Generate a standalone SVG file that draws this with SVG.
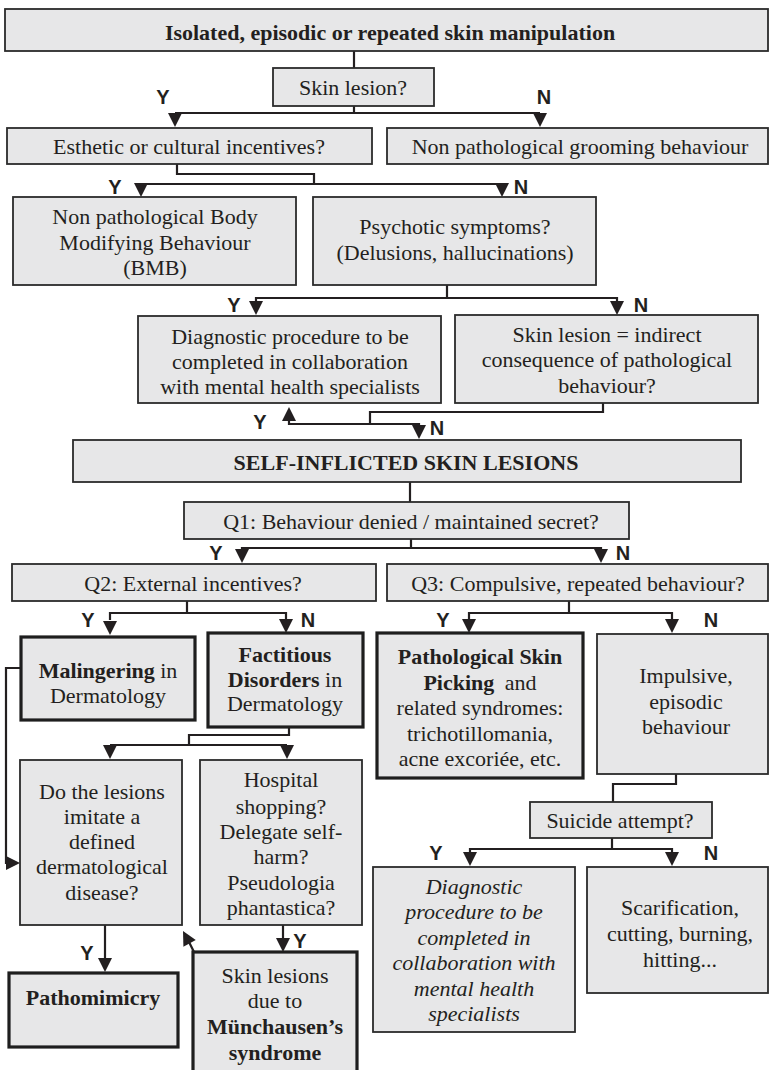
<svg xmlns="http://www.w3.org/2000/svg" width="769" height="1070" viewBox="0 0 769 1070">
<style>
.b{fill:#e7e7e8;stroke:#2b2b2b;stroke-width:1.8}
.bt{fill:#e7e7e8;stroke:#1e1e1e;stroke-width:3.2}
.t{font-family:"Liberation Serif","Times New Roman",serif;font-size:22px;fill:#231f20;text-anchor:middle}
.bd{font-weight:bold}
.it{font-style:italic}
.yn{font-family:"Liberation Sans",Arial,sans-serif;font-weight:bold;font-size:20px;fill:#231f20;text-anchor:middle}
.c{fill:none;stroke:#231f20;stroke-width:2.2}
</style>
<defs>
<path id="ah" d="M-7,-14 L7,-14 L0,0 Z" fill="#231f20"/>
</defs>
<rect width="769" height="1070" fill="#ffffff"/>

<g id="connectors">
<path class="c" d="M354,51 V68"/>
<path class="c" d="M354,106 V113 M175,113 H540"/>
<use href="#ah" transform="translate(175,127)"/>
<use href="#ah" transform="translate(540,127)"/>
<path class="c" d="M177,164 V174 H314 V184 M141,184 H502"/>
<use href="#ah" transform="translate(141,197)"/>
<use href="#ah" transform="translate(502,197)"/>
<path class="c" d="M447,285 V298 M256,302 V298 H617 V302"/>
<use href="#ah" transform="translate(256,315)"/>
<use href="#ah" transform="translate(617,315)"/>
<path class="c" d="M603,403 V412 H370 V424 M289,420 V424 H419 V426"/>
<use href="#ah" transform="translate(289,407) rotate(180)"/>
<use href="#ah" transform="translate(419,439)"/>
<path class="c" d="M410,482 V502"/>
<path class="c" d="M411,539 V548 M242,550 V548 H601 V550"/>
<use href="#ah" transform="translate(242,563)"/>
<use href="#ah" transform="translate(601,563)"/>
<path class="c" d="M187,601 V613 M110,620 V613 H286 V620"/>
<use href="#ah" transform="translate(110,635)"/>
<use href="#ah" transform="translate(286,633)"/>
<path class="c" d="M569,601 V613 M469,620 V613 H672 V620"/>
<use href="#ah" transform="translate(469,633)"/>
<use href="#ah" transform="translate(672,633)"/>
<path class="c" d="M289,727 V735 H189 V745 M110,745 H287"/>
<use href="#ah" transform="translate(110,759)"/>
<use href="#ah" transform="translate(287,759)"/>
<path class="c" d="M21,668 H6 V863 H8"/>
<use href="#ah" transform="translate(20,863) rotate(-90)"/>
<path class="c" d="M105,925 V958"/>
<use href="#ah" transform="translate(105,972)"/>
<path class="c" d="M283,925 V938"/>
<use href="#ah" transform="translate(283,952)"/>
<path class="c" d="M194,952 L188,940"/>
<use href="#ah" transform="translate(183,931) rotate(152)"/>
<path class="c" d="M676,774 V784 H613 V802"/>
<path class="c" d="M612,838 V849 M470,852 V849 H672 V852"/>
<use href="#ah" transform="translate(470,866)"/>
<use href="#ah" transform="translate(672,866)"/>
</g>

<g id="labels">
<text class="yn" x="163" y="104">Y</text><text class="yn" x="544" y="104">N</text>
<text class="yn" x="115" y="194">Y</text><text class="yn" x="521" y="194">N</text>
<text class="yn" x="234" y="312">Y</text><text class="yn" x="641" y="312">N</text>
<text class="yn" x="260" y="429">Y</text><text class="yn" x="437" y="435">N</text>
<text class="yn" x="216" y="560">Y</text><text class="yn" x="623" y="560">N</text>
<text class="yn" x="88" y="627">Y</text><text class="yn" x="308" y="627">N</text>
<text class="yn" x="443" y="627">Y</text><text class="yn" x="711" y="627">N</text>
<text class="yn" x="87" y="960">Y</text>
<text class="yn" x="300" y="948">Y</text>
<text class="yn" x="436" y="860">Y</text><text class="yn" x="711" y="860">N</text>
</g>

<g id="n1"><rect class="b" x="5" y="9" width="763" height="42"/>
<text class="t bd" x="390" y="39.5">Isolated, episodic or repeated skin manipulation</text></g>
<g id="n2"><rect class="b" x="273" y="68" width="161" height="38"/>
<text class="t" x="353" y="95">Skin lesion?</text></g>
<g id="n3"><rect class="b" x="7" y="128" width="365" height="36"/>
<text class="t" x="189" y="154">Esthetic or cultural incentives?</text></g>
<g id="n4"><rect class="b" x="387" y="128" width="381" height="36"/>
<text class="t" x="580" y="154">Non pathological grooming behaviour</text></g>
<g id="n5"><rect class="b" x="13" y="197" width="283" height="88"/>
<text class="t" x="155" y="224">Non pathological Body</text>
<text class="t" x="155" y="250">Modifying Behaviour</text>
<text class="t" x="155" y="275">(BMB)</text></g>
<g id="n6"><rect class="b" x="313" y="197" width="283" height="88"/>
<text class="t" x="455" y="234">Psychotic symptoms?</text>
<text class="t" x="455" y="260">(Delusions, hallucinations)</text></g>
<g id="n7"><rect class="b" x="138" y="316" width="303" height="87"/>
<text class="t" x="290" y="344">Diagnostic procedure to be</text>
<text class="t" x="290" y="369">completed in collaboration</text>
<text class="t" x="290" y="394">with mental health specialists</text></g>
<g id="n8"><rect class="b" x="455" y="315" width="303" height="88"/>
<text class="t" x="607" y="342">Skin lesion = indirect</text>
<text class="t" x="607" y="367">consequence of pathological</text>
<text class="t" x="607" y="393">behaviour?</text></g>
<g id="n9"><rect class="b" x="73" y="440" width="668" height="42"/>
<text class="t bd" x="406" y="470">SELF-INFLICTED SKIN LESIONS</text></g>
<g id="n10"><rect class="b" x="184" y="502" width="445" height="37"/>
<text class="t" x="411" y="529">Q1: Behaviour denied / maintained secret?</text></g>
<g id="n11"><rect class="b" x="12" y="564" width="364" height="37"/>
<text class="t" x="193" y="591">Q2: External incentives?</text></g>
<g id="n12"><rect class="b" x="387" y="564" width="381" height="37"/>
<text class="t" x="578" y="591">Q3: Compulsive, repeated behaviour?</text></g>
<g id="n13"><rect class="bt" x="21" y="637" width="174" height="83"/>
<text class="t" x="108" y="678"><tspan class="bd">Malingering</tspan> in</text>
<text class="t" x="108" y="703">Dermatology</text></g>
<g id="n14"><rect class="bt" x="208" y="633" width="155" height="94"/>
<text class="t bd" x="285" y="662">Factitious</text>
<text class="t" x="285" y="687"><tspan class="bd">Disorders</tspan> in</text>
<text class="t" x="285" y="711">Dermatology</text></g>
<g id="n15"><rect class="bt" x="377" y="633" width="206" height="145"/>
<text class="t bd" x="480" y="664">Pathological Skin</text>
<text class="t" x="480" y="690"><tspan class="bd">Picking</tspan><tspan dx="5"> and</tspan></text>
<text class="t" x="480" y="715">related syndromes:</text>
<text class="t" x="480" y="741">trichotillomania,</text>
<text class="t" x="480" y="766">acne excoriée, etc.</text></g>
<g id="n16"><rect class="b" x="597" y="634" width="171" height="140"/>
<text class="t" x="686" y="683">Impulsive,</text>
<text class="t" x="686" y="709">episodic</text>
<text class="t" x="686" y="734">behaviour</text></g>
<g id="n17"><rect class="b" x="20" y="760" width="162" height="165"/>
<text class="t" x="102" y="799">Do the lesions</text>
<text class="t" x="102" y="824">imitate a</text>
<text class="t" x="102" y="849">defined</text>
<text class="t" x="102" y="874">dermatological</text>
<text class="t" x="102" y="900">disease?</text></g>
<g id="n18"><rect class="b" x="200" y="760" width="162" height="165"/>
<text class="t" x="281" y="787">Hospital</text>
<text class="t" x="281" y="814">shopping?</text>
<text class="t" x="281" y="839">Delegate self-</text>
<text class="t" x="281" y="864">harm?</text>
<text class="t" x="281" y="890">Pseudologia</text>
<text class="t" x="281" y="915">phantastica?</text></g>
<g id="n19"><rect class="b" x="530" y="802" width="182" height="36"/>
<text class="t" x="620" y="828">Suicide attempt?</text></g>
<g id="n20"><rect class="bt" x="9" y="973" width="169" height="74"/>
<text class="t bd" x="93" y="1005">Pathomimicry</text></g>
<g id="n21"><rect class="bt" x="193" y="952" width="164" height="125"/>
<text class="t" x="275" y="983">Skin lesions</text>
<text class="t" x="275" y="1008">due to</text>
<text class="t bd" x="275" y="1034">Münchausen’s</text>
<text class="t bd" x="275" y="1060">syndrome</text></g>
<g id="n22"><rect class="b" x="373" y="867" width="202" height="165"/>
<text class="t it" x="474" y="894">Diagnostic</text>
<text class="t it" x="474" y="919">procedure to be</text>
<text class="t it" x="474" y="945">completed in</text>
<text class="t it" x="474" y="970">collaboration with</text>
<text class="t it" x="474" y="996">mental health</text>
<text class="t it" x="474" y="1021">specialists</text></g>
<g id="n23"><rect class="b" x="587" y="867" width="181" height="126"/>
<text class="t" x="680" y="915">Scarification,</text>
<text class="t" x="680" y="941">cutting, burning,</text>
<text class="t" x="680" y="967">hitting...</text></g>
</svg>
